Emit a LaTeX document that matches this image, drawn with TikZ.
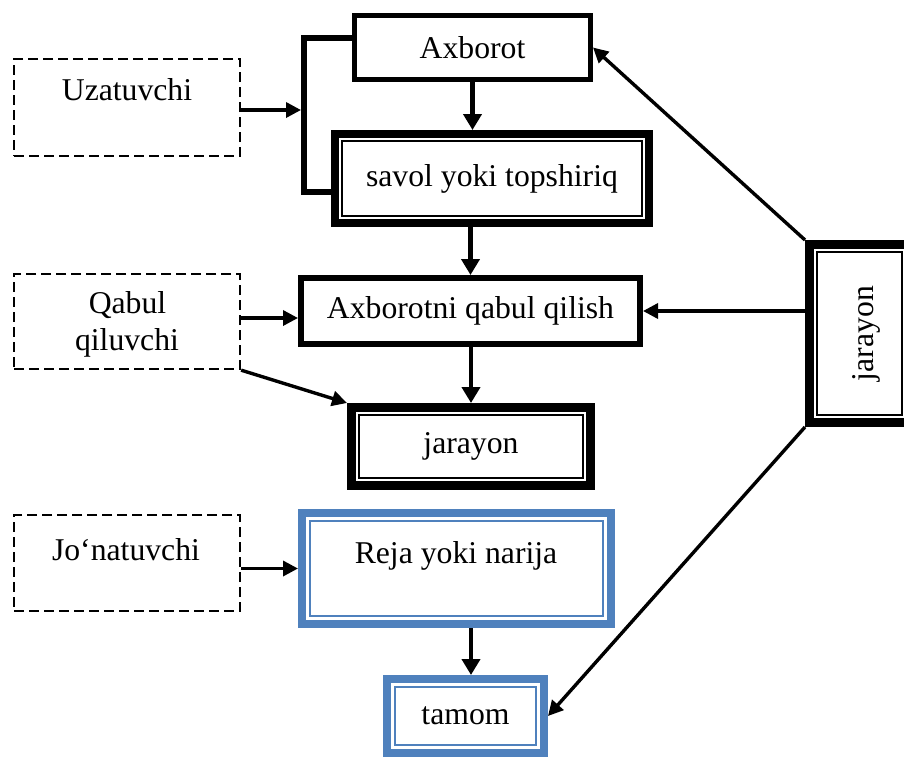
\documentclass[tikz,border=0pt]{standalone}
\usepackage{fontspec}
\setmainfont{Liberation Serif}
\usetikzlibrary{arrows.meta}
\definecolor{frameblue}{RGB}{79,129,189}

% thin inner frame drawn a fixed distance inside a box's outer edge
\newcommand\innerframe[3]{%
  \draw[innerline,#3] ([shift={(#2,-#2)}]#1.north west) rectangle ([shift={(-#2,#2)}]#1.south east);}

\begin{document}
\begin{tikzpicture}[x=1pt,y=-1pt,
  every node/.style={font=\fontsize{31.7pt}{37pt}\selectfont, inner sep=0pt},
  box/.style={draw, rectangle, line width=#1, line join=miter},
  dashbox/.style={draw, rectangle, line width=2.3pt, dash pattern=on 10pt off 5pt,
                  minimum width=226pt},
  innerline/.style={line width=1.6pt},
  arr/.style={line width=3.4pt, -{Triangle[length=15pt,width=15pt]}},
  varr/.style={line width=4.5pt, -{Triangle[length=16pt,width=18pt]}},
  brkline/.style={line width=6pt, line join=miter},
]
\useasboundingbox (0,0) rectangle (904,758);

% main column
\node[box=5pt, minimum width=236pt, minimum height=64pt] (axb) at (472.5,47.5) {Axborot};
\node[box=8pt, minimum width=314pt, minimum height=89pt] (sav) at (492,178.5) {savol yoki topshiriq};
\innerframe{sav}{11pt}{}
\node[box=6pt, minimum width=339pt, minimum height=66pt] (axq) at (470.5,311) {Axborotni qabul qilish};
\node[box=9pt, minimum width=239pt, minimum height=78pt] (mid) at (471,446.5) {jarayon};
\innerframe{mid}{12pt}{}
\node[box=8pt, draw=frameblue, minimum width=309pt, minimum height=111pt] (rej) at (456.5,568.5) {};
\innerframe{rej}{12pt}{draw=frameblue}
\node[anchor=base] (rejt) at (456,563) {Reja yoki narija};
\node[box=8pt, draw=frameblue, minimum width=157pt, minimum height=74pt] (tam) at (465.5,716) {tamom};
\innerframe{tam}{12pt}{draw=frameblue}

% right-hand process box
\node[box=9pt, minimum width=100pt, minimum height=178pt] (rjr) at (859.5,333.5) {};
\innerframe{rjr}{12pt}{}
\node[rotate=90] (rjrt) at (866,333.5) {jarayon};

% dashed actor boxes
\node[dashbox, minimum height=97pt] (uza) at (127,107.5) {};
\node[anchor=base] (uzat) at (127,100) {Uzatuvchi};
\node[dashbox, minimum height=95pt] (qab) at (127,321.5) {};
\node[anchor=base] (qabt1) at (127.5,313) {Qabul};
\node[anchor=base] (qabt2) at (127,350) {qiluvchi};
\node[dashbox, minimum height=96pt] (jon) at (127,563) {};
\node[anchor=base] (jont) at (126,560) {Jo‘natuvchi};

% bracket joining Axborot and savol yoki topshiriq
\coordinate (brk) at (304,110);
\draw[brkline] ([yshift=9.5pt]axb.west) -| (brk) |- ([yshift=-13.5pt]sav.west);
\draw[arr] (uza.east |- brk) -- ([xshift=-3pt]brk);

% vertical flow
\draw[varr] (axb.south) -- (axb.south |- sav.north);
\draw[varr] (axq.north |- sav.south) -- (axq.north);
\draw[varr] (mid.north |- axq.south) -- (mid.north);
\coordinate (rt) at (471,0);
\draw[varr] (rej.south -| rt) -- (tam.north -| rt);

% inputs from the actors
\coordinate (qin) at ([yshift=-7pt]axq.west);
\draw[arr] (qab.east |- qin) -- (qin);
\draw[arr] (qab.south east) -- (mid.north west);
\draw[arr] (jon.east |- rej.west) -- (rej.west);

% links from the process box
\draw[arr] (rjr.north west) -- (axb.east);
\draw[arr] (rjr.west |- axq.east) -- (axq.east);
\draw[arr] (rjr.south west) -- (tam.east);
\end{tikzpicture}
\end{document}
